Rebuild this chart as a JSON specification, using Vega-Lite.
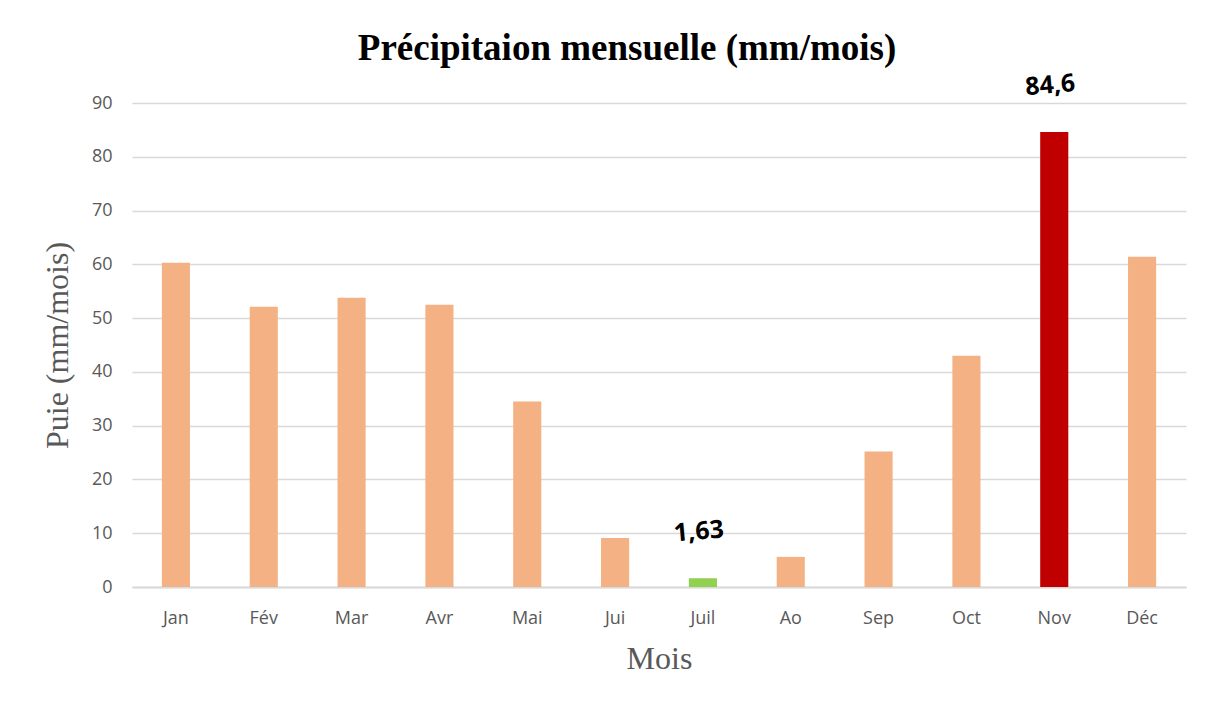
{
  "$schema": "https://vega.github.io/schema/vega-lite/v6.json",
  "width": 1054,
  "height": 484,
  "autosize": {"type": "none"},
  "padding": {"left": 132, "top": 103, "right": 22, "bottom": 117},
  "background": "white",
  "config": {"view": {"stroke": null}},
  "title": {
    "text": "Précipitaion mensuelle (mm/mois)",
    "font": "Liberation Serif",
    "fontSize": 37,
    "fontWeight": "bold",
    "color": "#000000",
    "anchor": "middle",
    "dx": -32,
    "offset": 3
  },
  "data": {
    "values": [
      {"mois": "Jan", "p": 60.3, "cat": "normal", "label": ""},
      {"mois": "Fév", "p": 52.1, "cat": "normal", "label": ""},
      {"mois": "Mar", "p": 53.8, "cat": "normal", "label": ""},
      {"mois": "Avr", "p": 52.5, "cat": "normal", "label": ""},
      {"mois": "Mai", "p": 34.5, "cat": "normal", "label": ""},
      {"mois": "Jui", "p": 9.1, "cat": "normal", "label": ""},
      {"mois": "Juil", "p": 1.63, "cat": "min", "label": "1,63"},
      {"mois": "Ao", "p": 5.6, "cat": "normal", "label": ""},
      {"mois": "Sep", "p": 25.2, "cat": "normal", "label": ""},
      {"mois": "Oct", "p": 43.0, "cat": "normal", "label": ""},
      {"mois": "Nov", "p": 84.6, "cat": "max", "label": "84,6"},
      {"mois": "Déc", "p": 61.4, "cat": "normal", "label": ""}
    ]
  },
  "encoding": {
    "x": {
      "field": "mois",
      "type": "nominal",
      "sort": null,
      "scale": {"paddingInner": 0.68, "paddingOuter": 0.34},
      "axis": {
        "title": "Mois",
        "titleFont": "Liberation Serif",
        "titleFontSize": 32,
        "titleFontWeight": "normal",
        "titleColor": "#595959",
        "titlePadding": 16,
        "labelFont": "Open Sans",
        "labelFontSize": 18,
        "labelColor": "#595959",
        "labelAngle": 0,
        "labelPadding": 22,
        "ticks": false,
        "domainColor": "#D9D9D9",
        "domainWidth": 2
      }
    },
    "y": {
      "field": "p",
      "type": "quantitative",
      "scale": {"domain": [0, 90]},
      "axis": {
        "title": "Puie (mm/mois)",
        "titleFont": "Liberation Serif",
        "titleFontSize": 32,
        "titleFontWeight": "normal",
        "titleColor": "#595959",
        "titlePadding": 17,
        "labelFont": "Open Sans",
        "labelFontSize": 18,
        "labelColor": "#595959",
        "labelPadding": 20,
        "values": [0, 10, 20, 30, 40, 50, 60, 70, 80, 90],
        "ticks": false,
        "domain": false,
        "grid": true,
        "gridColor": "#D9D9D9",
        "gridWidth": 1.5
      }
    }
  },
  "layer": [
    {
      "mark": {"type": "bar"},
      "encoding": {
        "color": {
          "field": "cat",
          "type": "nominal",
          "scale": {"domain": ["normal", "min", "max"], "range": ["#F4B183", "#92D050", "#C00000"]},
          "legend": null
        }
      }
    },
    {
      "mark": {"type": "text", "font": "Open Sans", "fontSize": 25, "fontWeight": "bold", "color": "#000000", "angle": -5, "dy": -47, "baseline": "middle"},
      "encoding": {"text": {"field": "label"}}
    }
  ]
}
